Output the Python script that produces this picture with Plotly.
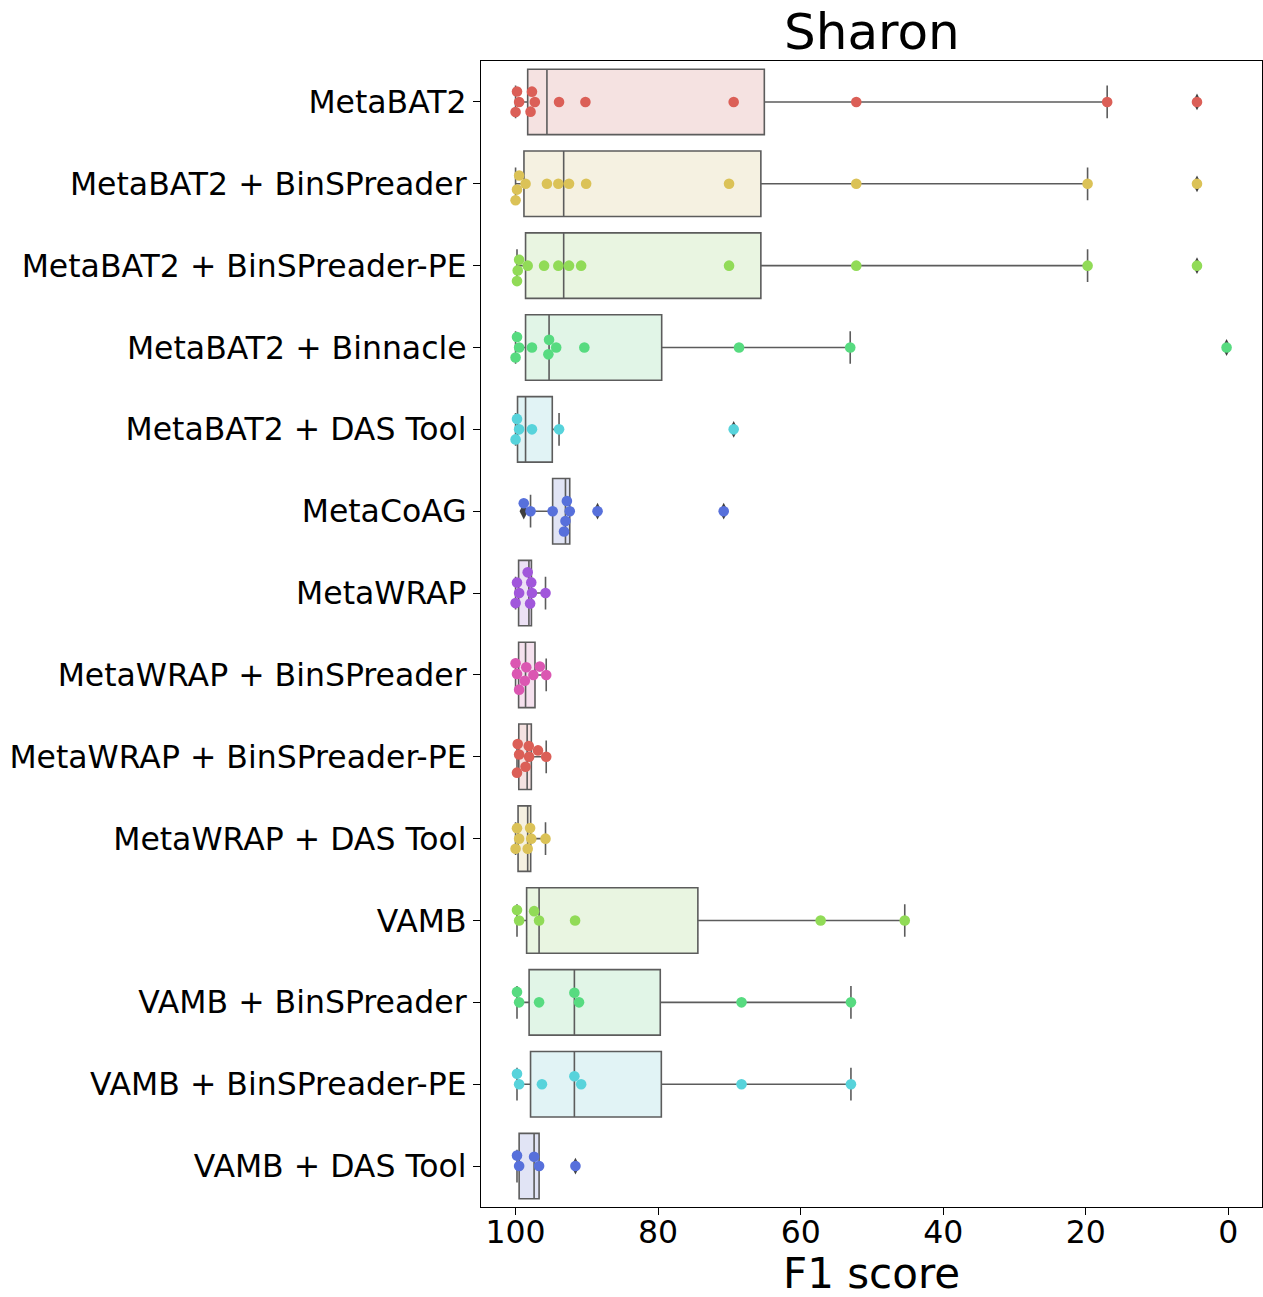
import colorsys
import numpy as np
import plotly.graph_objects as go

# Binning tools (top to bottom)
methods = [
    "MetaBAT2",
    "MetaBAT2 + BinSPreader",
    "MetaBAT2 + BinSPreader-PE",
    "MetaBAT2 + Binnacle",
    "MetaBAT2 + DAS Tool",
    "MetaCoAG",
    "MetaWRAP",
    "MetaWRAP + BinSPreader",
    "MetaWRAP + BinSPreader-PE",
    "MetaWRAP + DAS Tool",
    "VAMB",
    "VAMB + BinSPreader",
    "VAMB + BinSPreader-PE",
    "VAMB + DAS Tool",
]

# F1 score of every reference genome, per tool
metabat2 = [100, 99.8, 99.5, 97.9, 97.7, 97.3, 93.9, 90.2, 69.4, 52.2, 17.0, 4.4]
metabat2_binspreader = [100, 99.8, 99.5, 98.6, 95.6, 94.0, 92.5, 90.1, 70.05, 52.2, 19.75, 4.4]
metabat2_binspreader_pe = [99.8, 99.7, 99.5, 98.3, 96.0, 94.0, 92.5, 90.8, 70.05, 52.2, 19.75, 4.4]
metabat2_binnacle = [100, 99.8, 99.5, 97.7, 95.4, 95.3, 94.3, 90.35, 68.65, 53.05, 0.25]
metabat2_dastool = [100, 99.8, 99.5, 97.7, 93.9, 69.4]
metacoag = [98.85, 97.9, 94.8, 93.2, 93.0, 92.8, 92.4, 88.5, 70.8]
metawrap = [100, 99.8, 99.5, 98.3, 97.96, 97.8, 97.7, 95.8]
metawrap_binspreader = [100, 99.8, 99.5, 98.7, 98.5, 97.5, 96.6, 95.7]
metawrap_binspreader_pe = [99.8, 99.7, 99.5, 98.6, 98.15, 98.1, 96.85, 95.7]
metawrap_dastool = [100, 99.8, 99.5, 98.3, 97.96, 97.8, 95.8]
vamb = [99.8, 99.5, 97.4, 96.7, 91.65, 57.2, 45.4]
vamb_binspreader = [99.8, 99.5, 96.7, 91.75, 91.1, 68.3, 52.95]
vamb_binspreader_pe = [99.8, 99.5, 96.3, 91.75, 90.8, 68.3, 52.95]
vamb_dastool = [99.8, 99.5, 97.4, 96.7, 91.6]

f1_scores = [
    metabat2, metabat2_binspreader, metabat2_binspreader_pe, metabat2_binnacle,
    metabat2_dastool, metacoag, metawrap, metawrap_binspreader,
    metawrap_binspreader_pe, metawrap_dastool, vamb, vamb_binspreader,
    vamb_binspreader_pe, vamb_dastool,
]

x_ticks = [100, 80, 60, 40, 20, 0]

# ---- figure geometry (px) ----
W, H = 1263, 1297
M_L, M_R, M_T, M_B = 481, 1, 61, 90
X_RANGE = [104.85, -4.72]
plot_w = W - M_L - M_R
plot_h = H - M_T - M_B
px_per_x = plot_w / abs(X_RANGE[1] - X_RANGE[0])
px_per_cat = plot_h / len(methods)

# ---- colours: 8-hue HLS palette cycled over the rows ----
def hls_palette(n, h=0.01, l=0.6, s=0.65):
    hues = (np.linspace(0, 1, n + 1)[:-1] + h) % 1
    return [colorsys.hls_to_rgb(hh, l, s) for hh in hues]


def desaturate(rgb, prop):
    h, l, s = colorsys.rgb_to_hls(*rgb)
    return colorsys.hls_to_rgb(h, l, s * prop)


def css(rgb, a=None):
    r, g, b = (int(round(c * 255)) for c in rgb)
    return f"rgb({r},{g},{b})" if a is None else f"rgba({r},{g},{b},{a})"


palette = hls_palette(8)
BOX_LINE = "#5c5c5c"
FLIER = "#3f3f3f"
DOT_R = 5.1  # swarm dot radius, px


def beeswarm(values, r):
    """Offsets (px, along the category axis) that keep dots from overlapping."""
    vals = np.asarray(values, float)
    order = np.argsort(vals, kind="stable")
    pos = vals[order] * px_per_x
    swarm = []
    for p in pos:
        neighbors = []
        for c_j, p_j in reversed(swarm):
            if p - p_j < 2 * r:
                neighbors.append((c_j, p_j))
            else:
                break
        cands = [0.0]
        left_first = True
        for c_j, p_j in neighbors:
            dy = p - p_j
            dx = np.sqrt(max((2 * r) ** 2 - dy ** 2, 0)) * 1.05
            cl, cr = c_j - dx, c_j + dx
            cands += [cl, cr] if left_first else [cr, cl]
            left_first = not left_first
        cands = sorted(cands, key=abs)
        chosen = cands[0]
        for c in cands:
            if all((c - c_j) ** 2 + (p - p_j) ** 2 >= (2 * r) ** 2 for c_j, p_j in neighbors):
                chosen = c
                break
        swarm.append((chosen, p))
    out = np.empty(len(vals))
    out[order] = [c for c, _ in swarm]
    return out


fig = go.Figure()

for i, vals in enumerate(f1_scores):
    arr = np.asarray(vals, float)
    col = palette[i % len(palette)]
    q1, med, q3 = np.percentile(arr, [25, 50, 75])
    iqr = q3 - q1
    inside = arr[(arr >= q1 - 1.5 * iqr) & (arr <= q3 + 1.5 * iqr)]
    lo, hi = inside.min(), inside.max()
    fliers = arr[(arr < q1 - 1.5 * iqr) | (arr > q3 + 1.5 * iqr)]

    fig.add_trace(go.Box(
        orientation="h", y=[i], q1=[q1], median=[med], q3=[q3],
        lowerfence=[lo], upperfence=[hi], width=0.8, whiskerwidth=0.5,
        fillcolor=css(desaturate(col, 0.75), 0.2),
        line=dict(color=BOX_LINE, width=1.6),
        boxpoints=False, showlegend=False, hoverinfo="skip",
    ))
    if len(fliers):
        fig.add_trace(go.Scatter(
            x=fliers, y=[i] * len(fliers), mode="markers",
            marker=dict(symbol="diamond-tall", size=12, color=FLIER, line=dict(width=0)),
            showlegend=False, hoverinfo="skip",
        ))
    offs = beeswarm(arr, DOT_R)
    fig.add_trace(go.Scatter(
        x=arr, y=i + offs / px_per_cat, mode="markers",
        marker=dict(size=2 * DOT_R + 0.4, color=css(col), line=dict(width=0)),
        showlegend=False, hoverinfo="skip",
    ))

axis_common = dict(
    showgrid=False, zeroline=False, showline=True, mirror=True,
    linecolor="black", linewidth=1.2, ticks="outside", ticklen=7,
    tickwidth=1.2, tickcolor="black",
    tickfont=dict(family="DejaVu Sans", size=31.5, color="black"),
)

fig.update_xaxes(range=X_RANGE, tickvals=x_ticks,
                 ticktext=[str(t) for t in x_ticks], ticklabelstandoff=-10,
                 **axis_common)
fig.update_yaxes(range=[len(methods) - 0.5, -0.5], tickvals=list(range(len(methods))),
                 ticktext=methods, **axis_common)

fig.add_annotation(text="Sharon", xref="paper", yref="paper", x=0.5, y=1,
                   xanchor="center", yanchor="bottom", yshift=-2, showarrow=False,
                   font=dict(family="DejaVu Sans", size=50, color="black"))
fig.add_annotation(text="F1 score", xref="paper", yref="paper", x=0.5, y=0,
                   xanchor="center", yanchor="middle", yshift=-66, showarrow=False,
                   font=dict(family="DejaVu Sans", size=42, color="black"))

fig.update_layout(
    width=W, height=H, autosize=False,
    margin=dict(l=M_L, r=M_R, t=M_T, b=M_B, pad=0),
    plot_bgcolor="white", paper_bgcolor="white",
    font=dict(family="DejaVu Sans", color="black"),
)

fig.write_html("out.html")
